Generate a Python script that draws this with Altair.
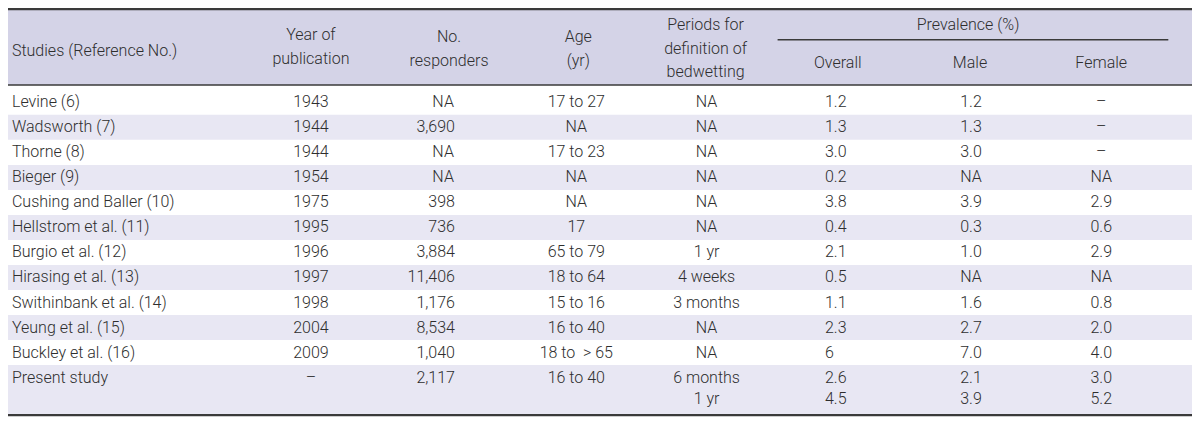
import altair as alt
import pandas as pd

# ---------------- data ----------------
studies = ["Levine (6)", "Wadsworth (7)", "Thorne (8)", "Bieger (9)", "Cushing and Baller (10)",
           "Hellstrom et al. (11)", "Burgio et al. (12)", "Hirasing et al. (13)",
           "Swithinbank et al. (14)", "Yeung et al. (15)", "Buckley et al. (16)", "Present study", ""]
years = ["1943", "1944", "1944", "1954", "1975", "1995", "1996", "1997", "1998", "2004", "2009", "–", ""]
responders = ["NA", "3,690", "NA", "NA", "398", "736", "3,884", "11,406", "1,176", "8,534", "1,040", "2,117", ""]
ages = ["17 to 27", "NA", "17 to 23", "NA", "NA", "17", "65 to 79", "18 to 64", "15 to 16",
        "16 to 40", "18 to \u00a0> 65", "16 to 40", ""]
periods = ["NA", "NA", "NA", "NA", "NA", "NA", "1 yr", "4 weeks", "3 months", "NA", "NA", "6 months", "1 yr"]
overall = ["1.2", "1.3", "3.0", "0.2", "3.8", "0.4", "2.1", "0.5", "1.1", "2.3", "6", "2.6", "4.5"]
male = ["1.2", "1.3", "3.0", "NA", "3.9", "0.3", "1.0", "NA", "1.6", "2.7", "7.0", "2.1", "3.9"]
female = ["–", "–", "–", "NA", "2.9", "0.6", "2.9", "NA", "0.8", "2.0", "4.0", "3.0", "5.2"]

header_lines = [
    ("Studies (Reference No.)", 4, 45, "left"),
    ("Year of", 307, 28, "center"), ("publication", 307, 53, "center"),
    ("No.", 447, 30, "center"), ("responders", 447, 55, "center"),
    ("Age", 578, 30, "center"), ("(yr)", 578, 55, "center"),
    ("Periods for", 707, 18, "center"), ("definition of", 707, 43, "center"),
    ("bedwetting", 707, 67, "center"),
    ("Prevalence (%)", 973, 18, "center"),
    ("Overall", 841, 57, "center"), ("Male", 975, 57, "center"), ("Female", 1108, 57, "center"),
]

# ---------------- layout ----------------
W, H = 1200, 426
FONT = "Roboto, Liberation Sans, sans-serif"
FS = 16
FW = 300
TXT = "#2e2e2e"
HEAD_BG = "#d4d3e7"
STRIPE = "#e8e7f3"
LINE = "#3a3a3a"

line_y = [98 + 26 * k for k in range(12)] + [406]

cells = []
for k in range(13):
    y = line_y[k]
    cells.append((studies[k], 4, y, "left"))
    cells.append((years[k], 307, y, "center"))
    if responders[k] == "NA":
        cells.append((responders[k], 441, y, "center"))
    else:
        cells.append((responders[k], 453, y, "right"))
    cells.append((ages[k], 576, y, "center"))
    cells.append((periods[k], 708, y, "center"))
    cells.append((overall[k], 828, y, "left"))
    cells.append((male[k], 976, y, "center"))
    cells.append((female[k], 1108, y, "center"))

text_df = pd.DataFrame(cells + header_lines, columns=["t", "x", "y", "align"])
text_df = text_df[text_df["t"] != ""]

# backgrounds: header band and alternate stripes
rects = [(0, W, 0, 80, HEAD_BG)]
bounds = [81] + [line_y[k] + 13 for k in range(11)] + [422]
for r in range(12):
    if r % 2 == 1:
        rects.append((0, W, bounds[r], bounds[r + 1], STRIPE))
rect_df = pd.DataFrame(rects, columns=["x", "x2", "y", "y2", "fill"])

rules = [
    (0, W, 1, 2.5),
    (0, W, 80, 1.6),
    (780, 1176, 33, 1.3),
    (0, W, 423, 2.2),
]
rule_df = pd.DataFrame(rules, columns=["x", "x2", "y", "w"])

xs = alt.Scale(domain=[0, W], nice=False, zero=False)
ys = alt.Scale(domain=[0, H], nice=False, zero=False, reverse=True)

bg = alt.Chart(rect_df).mark_rect().encode(
    x=alt.X("x:Q", scale=xs, axis=None),
    x2="x2:Q",
    y=alt.Y("y:Q", scale=ys, axis=None),
    y2="y2:Q",
    color=alt.Color("fill:N", scale=None),
)

lines = alt.Chart(rule_df).mark_rule(color=LINE).encode(
    x=alt.X("x:Q", scale=xs, axis=None),
    x2="x2:Q",
    y=alt.Y("y:Q", scale=ys, axis=None),
    strokeWidth=alt.StrokeWidth("w:Q", scale=None),
)

layers = [bg, lines]
for a in ["left", "center", "right"]:
    layers.append(
        alt.Chart(text_df[text_df["align"] == a]).mark_text(
            align=a, baseline="middle", font=FONT, fontSize=FS, fontWeight=FW, color=TXT
        ).encode(
            x=alt.X("x:Q", scale=xs, axis=None),
            y=alt.Y("y:Q", scale=ys, axis=None),
            text="t:N",
        )
    )

chart = alt.layer(*layers).properties(
    width=W - 16, height=H - 16,
    padding=0, autosize=alt.AutoSizeParams(type="none"),
    background="white",
).configure_view(stroke=None)

chart.save("out.html", embed_options={"renderer": "svg", "actions": False})
